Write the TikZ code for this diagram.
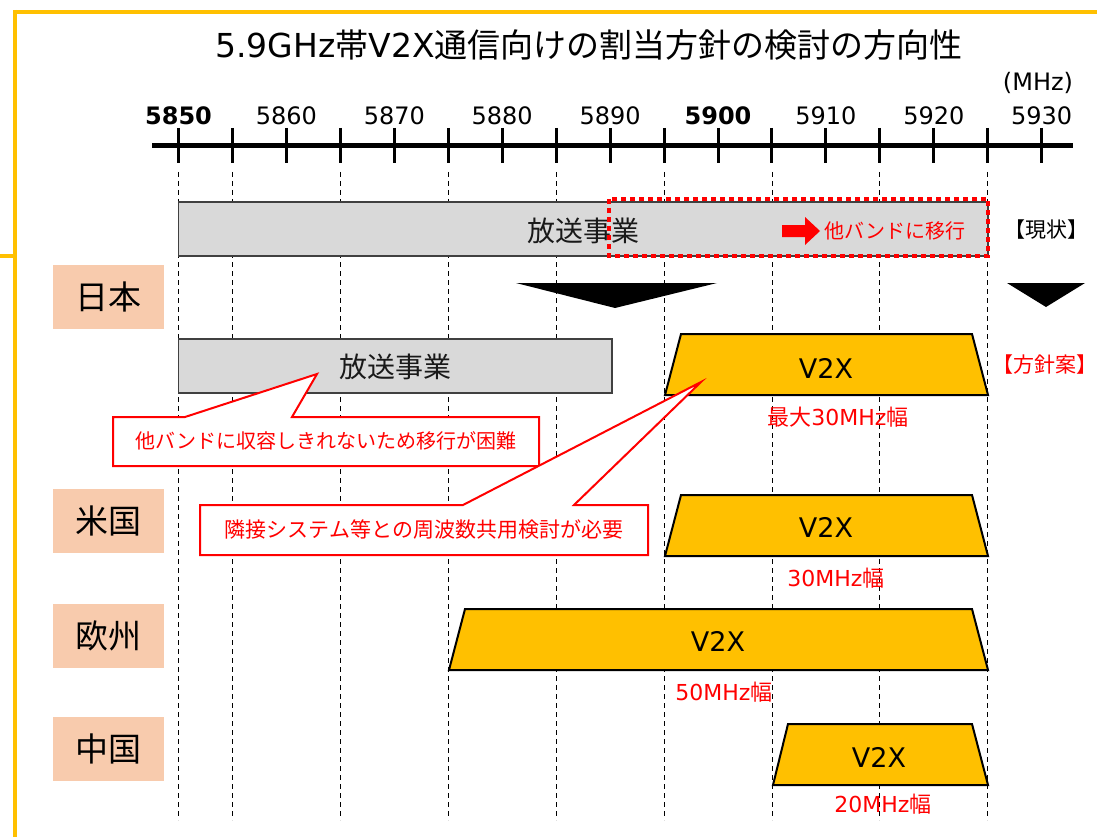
\documentclass[tikz,border=0pt]{standalone}
\usepackage{fontspec}
\setmainfont{DejaVu Sans}
\newfontfamily\jp{Noto Sans CJK JP}
\definecolor{borderorange}{HTML}{FFC000}
\definecolor{peach}{HTML}{F8CBAD}
\definecolor{bandgray}{HTML}{D9D9D9}
\definecolor{v2xfill}{HTML}{FFC000}
\definecolor{redtext}{HTML}{FF0000}
\newcommand{\fsz}[1]{\fontsize{#1}{#1}\selectfont}
\tikzset{
  frame/.style={draw=borderorange, line width=4pt},
  guide/.style={draw=black, line width=0.9pt, dash pattern=on 5pt off 4pt},
  tickmark/.style={draw=black, line width=3pt},
  numlabel/.style={inner sep=0pt, font=\fsz{24}},
  region/.style={fill=peach, inner sep=0pt, minimum width=111pt, minimum height=64pt, font=\jp\fsz{33}},
  bandbox/.style={fill=bandgray, draw=black!75, line width=1.5pt},
  v2xshape/.style={fill=v2xfill, draw=black, line width=2pt, line join=miter},
  v2xlabel/.style={inner sep=0pt, font=\fsz{27}},
  widthlabel/.style={inner sep=0pt, text=redtext, font=\fsz{22}},
  callout/.style={fill=white, draw=redtext, line width=2pt, line join=miter},
  calltext/.style={inner sep=0pt, text=redtext, font=\jp\fsz{20}},
}
\begin{document}
\begin{tikzpicture}[x=1pt, y=-1pt]
\useasboundingbox (0,0) rectangle (1097,837);
% frame
\draw[frame] (13,12) -- (1097,12);
\draw[frame] (15,10) -- (15,837);
\draw[frame] (0,256) -- (15,256);
% title
\node[inner sep=0pt] (title) at (589,45) {\fsz{33}5.9GHz{\jp 帯}V2X{\jp 通信向けの割当方針の検討の方向性}};
% axis
\draw[draw=black, line width=5pt] (152,146) -- (1073,146);
\foreach \f in {0,5,...,80} \draw[tickmark] (178.5+\f*10.79,128) -- (178.5+\f*10.79,163);
\foreach \f/\l in {0/5850,10/5860,20/5870,30/5880,40/5890,50/5900,60/5910,70/5920,80/5930} {
  \node[numlabel] (n\l) at (178.5+\f*10.79,116) {\ifnum\l=5850 \bfseries\fi\ifnum\l=5900 \bfseries\fi\l};
}
\node[numlabel] (unit) at (1038,83) {(MHz)};
% dashed guides
\foreach \f in {0,5,15,25,35,45,55,65,75} \draw[guide] (178.5+\f*10.79,172) -- (178.5+\f*10.79,820);
% row: current
\draw[bandbox] (178.5,202) rectangle (988,256);
\node[inner sep=0pt, font=\jp\fsz{28}, text=black!90] (cur) at (583,231) {放送事業};
\fill[redtext] (782,225) -- (805,225) -- (805,217) -- (820,231) -- (805,245) -- (805,237) -- (782,237) -- cycle;
\node[calltext] (move) at (895,231) {他バンドに移行};
\draw[draw=redtext, line width=4pt, dash pattern=on 5pt off 4pt] (609,199) rectangle (988,256);
\node[inner sep=0pt, font=\jp\fsz{21}] (genjo) at (1046,230) {【現状】};
% arrows down
\fill[black] (516,283) -- (717,283) -- (615,308) -- cycle;
\fill[black] (1007,283) -- (1085,283) -- (1046,307) -- cycle;
% region labels
\node[region] (jp) at (108.5,297) {日本};
\node[region] (us) at (108.5,521) {米国};
\node[region] (eu) at (108.5,636) {欧州};
\node[region] (cn) at (108.5,749) {中国};
% Japan plan
\draw[bandbox] (178.5,339) rectangle (612,393);
\node[inner sep=0pt, font=\jp\fsz{28}, text=black!90] (plan) at (395,367) {放送事業};
\draw[v2xshape] (665,395) -- (681,334) -- (972,334) -- (988,395) -- cycle;
\node[v2xlabel] (v2xjp) at (826,368) {V2X};
\node[widthlabel] (wjp) at (838,417) {{\jp 最大}30MHz{\jp 幅}};
\node[inner sep=0pt, text=redtext, font=\jp\fsz{21}] (hoshin) at (1045,365) {【方針案】};
% callouts
\draw[callout] (113,417) -- (185,417) -- (317,374) -- (292,417) -- (539,417) -- (539,466) -- (113,466) -- cycle;
\node[calltext] (c1) at (326,441) {他バンドに収容しきれないため移行が困難};
\draw[callout] (200,505) -- (463,505) -- (701,382) -- (574,505) -- (648,505) -- (648,555) -- (200,555) -- cycle;
\node[calltext, font=\jp\fsz{21}] (c2) at (424,530) {隣接システム等との周波数共用検討が必要};
% US
\draw[v2xshape] (665,556) -- (681,495) -- (972,495) -- (988,556) -- cycle;
\node[v2xlabel] (v2xus) at (826,527) {V2X};
\node[widthlabel] (wus) at (836,578) {30MHz{\jp 幅}};
% EU
\draw[v2xshape] (449,670) -- (465,609) -- (972,609) -- (988,670) -- cycle;
\node[v2xlabel] (v2xeu) at (718,641) {V2X};
\node[widthlabel] (weu) at (724,692) {50MHz{\jp 幅}};
% CN
\draw[v2xshape] (773,785) -- (788,724) -- (972,724) -- (988,785) -- cycle;
\node[v2xlabel] (v2xcn) at (879,757) {V2X};
\node[widthlabel] (wcn) at (883,804) {20MHz{\jp 幅}};
\end{tikzpicture}
\end{document}
